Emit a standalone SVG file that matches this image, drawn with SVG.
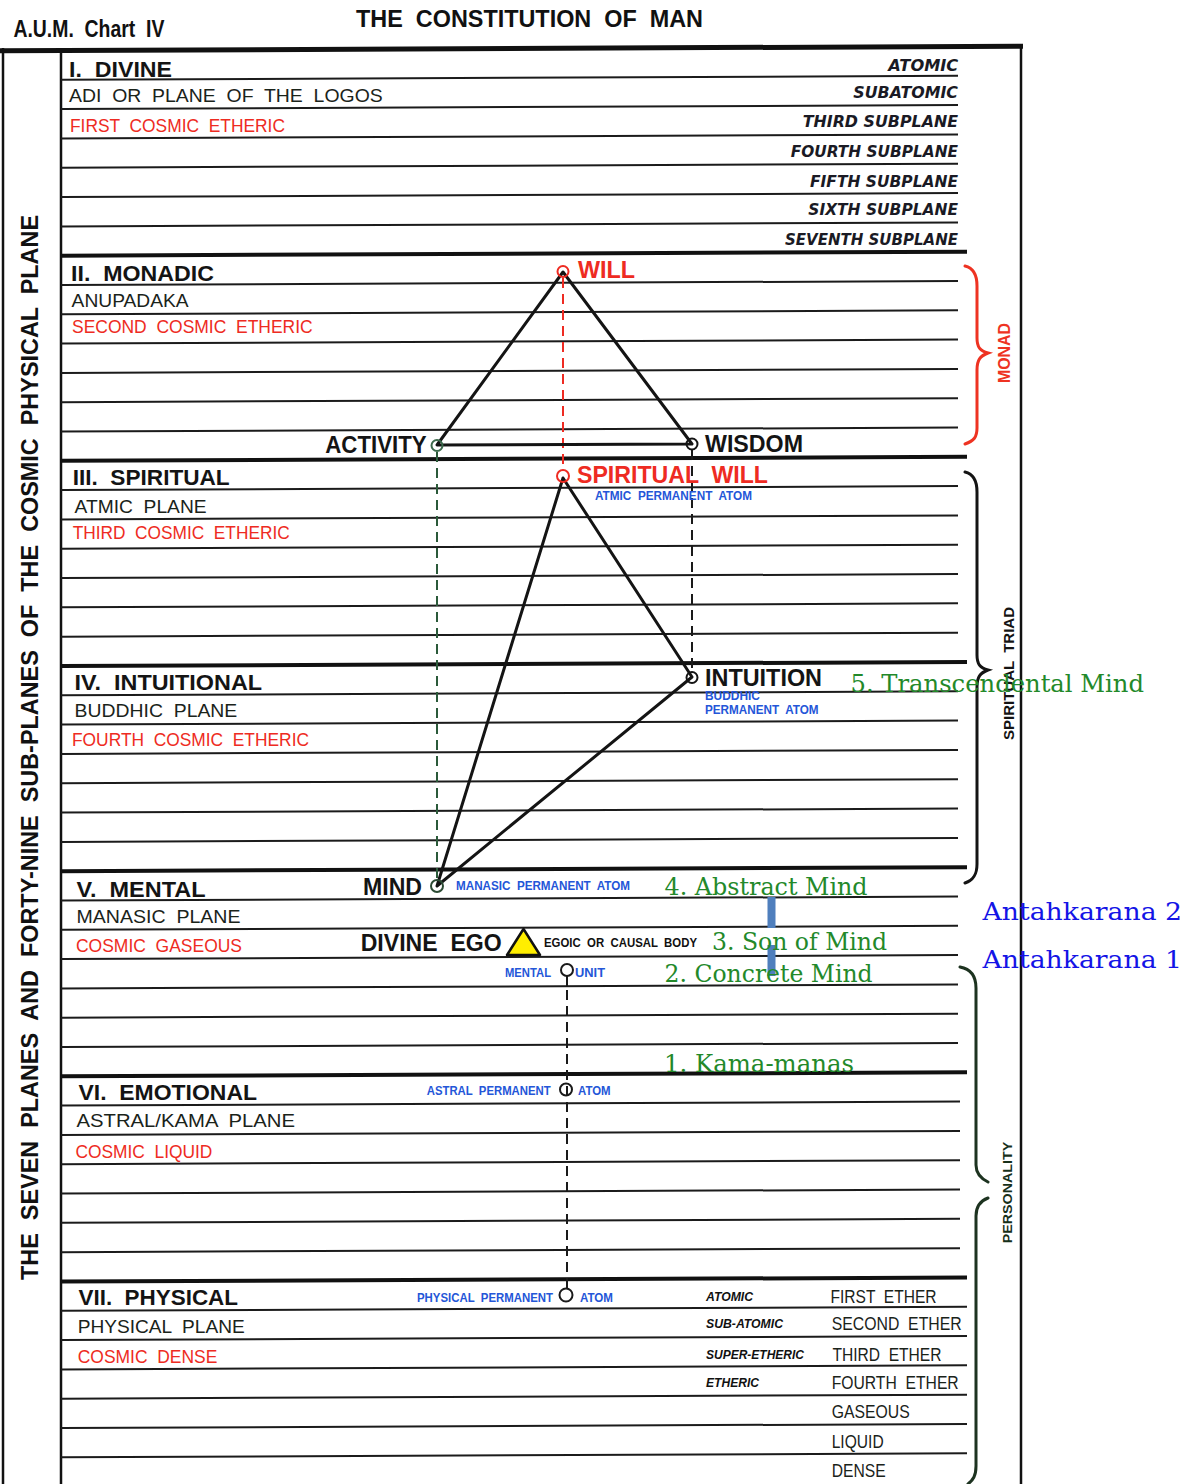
<svg xmlns="http://www.w3.org/2000/svg" width="1187" height="1484" viewBox="0 0 1187 1484" xml:space="preserve">
<style>
text { font-family: "Liberation Sans", Arial, sans-serif; white-space: pre; }
.title { font-size: 23px; font-weight: bold; fill: #111; }
.h { font-size: 22px; font-weight: bold; fill: #141414; }
.n { font-size: 18.5px; fill: #1a231a; }
.r { font-size: 18.5px; fill: #ee2b22; }
.sp { font-family: "DejaVu Sans", sans-serif; font-size: 15px; font-weight: bold; font-style: italic; fill: #1a1a24; }
.bl { font-size: 12px; font-weight: bold; fill: #2456d8; }
.k { font-size: 12px; font-weight: bold; fill: #111; }
.ki { font-size: 12px; font-weight: bold; font-style: italic; fill: #111; }
.big { font-size: 23px; font-weight: bold; fill: #141414; }
.bigr { font-size: 23px; font-weight: bold; fill: #ee2b22; }
.gr { font-family: "DejaVu Serif", "Liberation Serif", serif; font-size: 25px; fill: #23892a; }
.an { font-family: "DejaVu Serif", "Liberation Serif", serif; font-size: 25px; fill: #1414e6; }
.side { font-size: 24px; font-weight: bold; fill: #111; }
.thin { stroke: #1b1b1b; stroke-width: 2; }
.thick { stroke: #111; stroke-width: 4; }
.frame { stroke: #111; stroke-width: 2.5; fill: none; }
.tri { stroke: #141414; stroke-width: 3; fill: none; stroke-linejoin: round; }
.node { fill: none; stroke-width: 2; }
.dash { fill: none; stroke-width: 2; stroke-dasharray: 10 6; }
.brace { fill: none; stroke-width: 3; stroke-linecap: round; }
</style>

<!-- frame and grid -->
<g id="grid">
  <line class="frame" x1="3" y1="48" x2="3" y2="1484"/>
  <line class="frame" x1="61" y1="48" x2="61" y2="1484"/>
  <line class="frame" x1="1021" y1="46" x2="1021" y2="1484"/>
  <g transform="matrix(1 -0.00446 0 1 0 2.275)">
    <line x1="0" y1="48.5" x2="1023" y2="48.5" stroke="#111" stroke-width="5"/>
    <g class="thin">
      <line x1="61" y1="77.8" x2="958" y2="77.8"/>
      <line x1="61" y1="107.1" x2="958" y2="107.1"/>
      <line x1="61" y1="136.4" x2="958" y2="136.4"/>
      <line x1="61" y1="165.7" x2="958" y2="165.7"/>
      <line x1="61" y1="195.1" x2="958" y2="195.1"/>
      <line x1="61" y1="224.4" x2="958" y2="224.4"/>
      <line x1="61" y1="283.0" x2="958" y2="283.0"/>
      <line x1="61" y1="312.3" x2="958" y2="312.3"/>
      <line x1="61" y1="341.6" x2="958" y2="341.6"/>
      <line x1="61" y1="370.9" x2="958" y2="370.9"/>
      <line x1="61" y1="400.2" x2="958" y2="400.2"/>
      <line x1="61" y1="429.5" x2="958" y2="429.5"/>
      <line x1="61" y1="488.1" x2="958" y2="488.1"/>
      <line x1="61" y1="517.4" x2="958" y2="517.4"/>
      <line x1="61" y1="546.7" x2="958" y2="546.7"/>
      <line x1="61" y1="576.0" x2="958" y2="576.0"/>
      <line x1="61" y1="605.3" x2="958" y2="605.3"/>
      <line x1="61" y1="634.7" x2="958" y2="634.7"/>
      <line x1="61" y1="693.3" x2="958" y2="693.3"/>
      <line x1="61" y1="722.6" x2="958" y2="722.6"/>
      <line x1="61" y1="751.9" x2="958" y2="751.9"/>
      <line x1="61" y1="781.2" x2="958" y2="781.2"/>
      <line x1="61" y1="810.5" x2="958" y2="810.5"/>
      <line x1="61" y1="839.9" x2="958" y2="839.9"/>
      <line x1="61" y1="898.5" x2="958" y2="898.5"/>
      <line x1="61" y1="927.8" x2="958" y2="927.8"/>
      <line x1="61" y1="957.1" x2="958" y2="957.1"/>
      <line x1="61" y1="986.4" x2="958" y2="986.4"/>
      <line x1="61" y1="1015.7" x2="958" y2="1015.7"/>
      <line x1="61" y1="1045.0" x2="958" y2="1045.0"/>
      <line x1="61" y1="1103.6" x2="960" y2="1103.6"/>
      <line x1="61" y1="1132.9" x2="960" y2="1132.9"/>
      <line x1="61" y1="1162.2" x2="960" y2="1162.2"/>
      <line x1="61" y1="1191.5" x2="960" y2="1191.5"/>
      <line x1="61" y1="1220.8" x2="960" y2="1220.8"/>
      <line x1="61" y1="1250.2" x2="960" y2="1250.2"/>
      <line x1="61" y1="1308.8" x2="967" y2="1308.8"/>
      <line x1="61" y1="1338.1" x2="967" y2="1338.1"/>
      <line x1="61" y1="1367.4" x2="967" y2="1367.4"/>
      <line x1="61" y1="1396.7" x2="967" y2="1396.7"/>
      <line x1="61" y1="1426.0" x2="967" y2="1426.0"/>
      <line x1="61" y1="1455.3" x2="967" y2="1455.3"/>
    </g>
    <g class="thick">
      <line x1="61" y1="253.7" x2="967" y2="253.7"/>
      <line x1="61" y1="458.8" x2="967" y2="458.8"/>
      <line x1="61" y1="664.0" x2="967" y2="664.0"/>
      <line x1="61" y1="869.2" x2="967" y2="869.2"/>
      <line x1="61" y1="1074.3" x2="967" y2="1074.3"/>
      <line x1="61" y1="1279.5" x2="967" y2="1279.5"/>
    </g>
  </g>
</g>

<!-- titles -->
<g id="header">
  <text class="title" x="13.4" y="36.7" font-size="17" textLength="151" lengthAdjust="spacingAndGlyphs">A.U.M.  Chart  IV</text>
  <text class="title" x="356" y="26.7" textLength="347" lengthAdjust="spacingAndGlyphs">THE  CONSTITUTION  OF  MAN</text>
</g>
<g id="side-title">
  <text class="side" transform="translate(38,1280) rotate(-90)" textLength="1065" lengthAdjust="spacingAndGlyphs">THE  SEVEN  PLANES  AND  FORTY-NINE  SUB-PLANES  OF  THE  COSMIC  PHYSICAL  PLANE</text>
</g>

<!-- plane labels -->
<g id="plane-1">
  <text class="h" x="69" y="77" textLength="103" lengthAdjust="spacingAndGlyphs">I.  DIVINE</text>
  <text class="n" x="69" y="101.7" textLength="313.7" lengthAdjust="spacingAndGlyphs">ADI  OR  PLANE  OF  THE  LOGOS</text>
  <text class="r" x="70" y="131.7" textLength="215" lengthAdjust="spacingAndGlyphs">FIRST  COSMIC  ETHERIC</text>
</g>
<g id="subplanes-1">
  <text class="sp" x="888.3" y="71" textLength="70" lengthAdjust="spacingAndGlyphs">ATOMIC</text>
  <text class="sp" x="853.3" y="97.7" textLength="104.7" lengthAdjust="spacingAndGlyphs">SUBATOMIC</text>
  <text class="sp" x="802.7" y="126.7" textLength="155.3" lengthAdjust="spacingAndGlyphs">THIRD SUBPLANE</text>
  <text class="sp" x="790.7" y="156.7" textLength="167.3" lengthAdjust="spacingAndGlyphs">FOURTH SUBPLANE</text>
  <text class="sp" x="810" y="186.7" textLength="148" lengthAdjust="spacingAndGlyphs">FIFTH SUBPLANE</text>
  <text class="sp" x="808.3" y="215" textLength="149.7" lengthAdjust="spacingAndGlyphs">SIXTH SUBPLANE</text>
  <text class="sp" x="785" y="245" textLength="173" lengthAdjust="spacingAndGlyphs">SEVENTH SUBPLANE</text>
</g>
<g id="plane-2">
  <text class="h" x="71" y="280.7" textLength="143" lengthAdjust="spacingAndGlyphs">II.  MONADIC</text>
  <text class="n" x="71.6" y="307.3" textLength="117" lengthAdjust="spacingAndGlyphs">ANUPADAKA</text>
  <text class="r" x="72" y="333.3" textLength="240.7" lengthAdjust="spacingAndGlyphs">SECOND  COSMIC  ETHERIC</text>
</g>
<g id="plane-3">
  <text class="h" x="72.7" y="485" textLength="157" lengthAdjust="spacingAndGlyphs">III.  SPIRITUAL</text>
  <text class="n" x="74.6" y="513.3" textLength="132" lengthAdjust="spacingAndGlyphs">ATMIC  PLANE</text>
  <text class="r" x="72.7" y="539.3" textLength="217" lengthAdjust="spacingAndGlyphs">THIRD  COSMIC  ETHERIC</text>
</g>
<g id="plane-4">
  <text class="h" x="74.6" y="690" textLength="187.5" lengthAdjust="spacingAndGlyphs">IV.  INTUITIONAL</text>
  <text class="n" x="74.6" y="716.7" textLength="162.7" lengthAdjust="spacingAndGlyphs">BUDDHIC  PLANE</text>
  <text class="r" x="72" y="746" textLength="237" lengthAdjust="spacingAndGlyphs">FOURTH  COSMIC  ETHERIC</text>
</g>
<g id="plane-5">
  <text class="h" x="76.5" y="896.7" textLength="129" lengthAdjust="spacingAndGlyphs">V.  MENTAL</text>
  <text class="n" x="76.5" y="922.7" textLength="164" lengthAdjust="spacingAndGlyphs">MANASIC  PLANE</text>
  <text class="r" x="76" y="951.5" textLength="166" lengthAdjust="spacingAndGlyphs">COSMIC  GASEOUS</text>
</g>
<g id="plane-6">
  <text class="h" x="78.5" y="1100" textLength="178.5" lengthAdjust="spacingAndGlyphs">VI.  EMOTIONAL</text>
  <text class="n" x="76.5" y="1126.7" textLength="218.5" lengthAdjust="spacingAndGlyphs">ASTRAL/KAMA  PLANE</text>
  <text class="r" x="75.4" y="1158" textLength="137" lengthAdjust="spacingAndGlyphs">COSMIC  LIQUID</text>
</g>
<g id="plane-7">
  <text class="h" x="78.5" y="1305" textLength="159.5" lengthAdjust="spacingAndGlyphs">VII.  PHYSICAL</text>
  <text class="n" x="77.7" y="1333" textLength="167" lengthAdjust="spacingAndGlyphs">PHYSICAL  PLANE</text>
  <text class="r" x="77.7" y="1363" textLength="139.7" lengthAdjust="spacingAndGlyphs">COSMIC  DENSE</text>
</g>
<g id="subplanes-7">
  <text class="ki" x="706" y="1300.7" textLength="47" lengthAdjust="spacingAndGlyphs">ATOMIC</text>
  <text class="ki" x="706" y="1328" textLength="77" lengthAdjust="spacingAndGlyphs">SUB-ATOMIC</text>
  <text class="ki" x="706" y="1359" textLength="98" lengthAdjust="spacingAndGlyphs">SUPER-ETHERIC</text>
  <text class="ki" x="706" y="1387" textLength="53" lengthAdjust="spacingAndGlyphs">ETHERIC</text>
  <text class="n" x="830.5" y="1302.7" textLength="106" lengthAdjust="spacingAndGlyphs">FIRST  ETHER</text>
  <text class="n" x="831.7" y="1330" textLength="130" lengthAdjust="spacingAndGlyphs">SECOND  ETHER</text>
  <text class="n" x="832.5" y="1360.7" textLength="109" lengthAdjust="spacingAndGlyphs">THIRD  ETHER</text>
  <text class="n" x="831.7" y="1389" textLength="127" lengthAdjust="spacingAndGlyphs">FOURTH  ETHER</text>
  <text class="n" x="831.7" y="1418" textLength="78" lengthAdjust="spacingAndGlyphs">GASEOUS</text>
  <text class="n" x="831.7" y="1448" textLength="52" lengthAdjust="spacingAndGlyphs">LIQUID</text>
  <text class="n" x="831.7" y="1476.7" textLength="54" lengthAdjust="spacingAndGlyphs">DENSE</text>
</g>

<!-- connectors -->
<g id="connectors">
  <line x1="563" y1="278" x2="563" y2="470" stroke="#ee2b22" class="dash"/>
  <line x1="437" y1="452" x2="437" y2="879" stroke="#2b5a3a" class="dash"/>
  <line x1="692" y1="450" x2="692" y2="671" stroke="#1a1a1a" class="dash"/>
  <line x1="567" y1="976" x2="567" y2="986" stroke="#1a1a1a" stroke-width="2"/>
  <line x1="567" y1="990" x2="567" y2="1288" stroke="#1a1a1a" class="dash"/>
  <path class="tri" d="M437,445 L563,272 L692,444 Z"/>
  <path class="tri" d="M563,478 L692,677 L437,886 Z"/>
</g>

<!-- triangle vertices -->
<g id="will">
  <circle class="node" cx="563" cy="271.5" r="5.5" stroke="#ee2b22"/>
  <text class="bigr" x="578" y="278" textLength="57" lengthAdjust="spacingAndGlyphs">WILL</text>
</g>
<g id="activity">
  <circle class="node" cx="437" cy="445.5" r="5.5" stroke="#3c6a4c"/>
  <text class="big" x="325.3" y="453.3" fill="#1a2b1a" textLength="101.4" lengthAdjust="spacingAndGlyphs">ACTIVITY</text>
</g>
<g id="wisdom">
  <circle class="node" cx="692" cy="444" r="5.5" stroke="#141414"/>
  <text class="big" x="705" y="451.7" textLength="98" lengthAdjust="spacingAndGlyphs">WISDOM</text>
</g>
<g id="spiritual-will">
  <circle class="node" cx="563" cy="476" r="6" stroke="#ee2b22"/>
  <text class="bigr" x="577" y="483" textLength="191" lengthAdjust="spacingAndGlyphs">SPIRITUAL  WILL</text>
  <text class="bl" x="595" y="500" textLength="157" lengthAdjust="spacingAndGlyphs">ATMIC  PERMANENT  ATOM</text>
</g>
<g id="intuition">
  <circle class="node" cx="692" cy="677.5" r="5.5" stroke="#141414"/>
  <text class="big" x="705" y="686" textLength="117" lengthAdjust="spacingAndGlyphs">INTUITION</text>
  <text class="bl" x="705" y="700" textLength="55" lengthAdjust="spacingAndGlyphs">BUDDHIC</text>
  <text class="bl" x="705" y="714" textLength="113.5" lengthAdjust="spacingAndGlyphs">PERMANENT  ATOM</text>
</g>
<g id="mind">
  <circle class="node" cx="437" cy="886" r="6" stroke="#2b4a33"/>
  <text class="big" x="363" y="895" fill="#1a2b1a" textLength="59" lengthAdjust="spacingAndGlyphs">MIND</text>
  <text class="bl" x="456" y="890" textLength="174" lengthAdjust="spacingAndGlyphs">MANASIC  PERMANENT  ATOM</text>
</g>
<g id="divine-ego">
  <polygon points="507,955 523.5,929 540,955" fill="#ffee00" stroke="#111" stroke-width="2.5" stroke-linejoin="round"/>
  <text class="big" x="360.7" y="950.7" textLength="141" lengthAdjust="spacingAndGlyphs">DIVINE  EGO</text>
  <text class="k" x="544" y="947" textLength="153" lengthAdjust="spacingAndGlyphs">EGOIC  OR  CAUSAL  BODY</text>
</g>
<g id="mental-unit">
  <circle cx="567" cy="970" r="6" fill="#fff" stroke="#1a1a1a" stroke-width="2"/>
  <text class="bl" x="505" y="976.7" textLength="46" lengthAdjust="spacingAndGlyphs">MENTAL</text>
  <text class="bl" x="575" y="976.7" textLength="30" lengthAdjust="spacingAndGlyphs">UNIT</text>
</g>
<g id="astral-atom">
  <circle class="node" cx="566" cy="1089.5" r="6" stroke="#1a1a1a"/>
  <text class="bl" x="426.7" y="1095" textLength="124" lengthAdjust="spacingAndGlyphs">ASTRAL  PERMANENT</text>
  <text class="bl" x="578" y="1095" textLength="32.5" lengthAdjust="spacingAndGlyphs">ATOM</text>
</g>
<g id="physical-atom">
  <circle cx="566" cy="1295" r="6.5" fill="#fff" stroke="#1a1a1a" stroke-width="2"/>
  <text class="bl" x="417" y="1301.7" textLength="136" lengthAdjust="spacingAndGlyphs">PHYSICAL  PERMANENT</text>
  <text class="bl" x="580" y="1301.7" textLength="33" lengthAdjust="spacingAndGlyphs">ATOM</text>
</g>

<!-- brackets -->
<g id="monad">
  <path class="brace" stroke="#ee3322" d="M965,266 C974,268 977,275 977,286 L977,338 C977,347 980,351 988,353 C980,356 977,360 977,370 L977,428 C977,437 974,441 965,444"/>
  <text transform="translate(1010,383) rotate(-90)" font-size="16" font-weight="bold" fill="#ee3322" textLength="60" lengthAdjust="spacingAndGlyphs">MONAD</text>
</g>
<g id="spiritual-triad">
  <path class="brace" stroke="#141414" d="M965,472 C974,474 977,481 977,492 L977,655 C977,664 980,668 988,670 C980,673 977,677 977,687 L977,864 C977,874 974,880 965,883"/>
  <text transform="translate(1014,740) rotate(-90)" font-size="14.5" font-weight="bold" fill="#141414" textLength="133" lengthAdjust="spacingAndGlyphs">SPIRITUAL  TRIAD</text>
</g>
<g id="personality">
  <path class="brace" stroke="#1d3320" d="M960,967 C971,969 976,976 976,988 L976,1165 C976,1173 980,1178 988,1182 M988,1198 C980,1201 976,1207 976,1216 L976,1466 C976,1476 973,1480 968,1484"/>
  <text transform="translate(1012,1243.3) rotate(-90)" font-size="13.5" font-weight="bold" fill="#17301a" textLength="101.6" lengthAdjust="spacingAndGlyphs">PERSONALITY</text>
</g>

<!-- annotations -->
<g id="antahkarana-bars">
  <rect x="767.5" y="897" width="8" height="31" fill="#4f7fbd"/>
  <rect x="767.5" y="945" width="8" height="31" fill="#4f7fbd"/>
</g>
<g id="levels">
  <text class="gr" x="850.5" y="691.7" textLength="293.5" lengthAdjust="spacingAndGlyphs">5. Transcendental Mind</text>
  <text class="gr" x="664.6" y="895" textLength="203" lengthAdjust="spacingAndGlyphs">4. Abstract Mind</text>
  <text class="gr" x="712" y="950" textLength="175" lengthAdjust="spacingAndGlyphs">3. Son of Mind</text>
  <text class="gr" x="664.6" y="982" textLength="208" lengthAdjust="spacingAndGlyphs">2. Concrete Mind</text>
  <text class="gr" x="664" y="1071.7" textLength="190" lengthAdjust="spacingAndGlyphs">1. Kama-manas</text>
</g>
<g id="antahkarana">
  <text class="an" x="982.6" y="920" textLength="199.4" lengthAdjust="spacingAndGlyphs">Antahkarana 2</text>
  <text class="an" x="982.6" y="968" textLength="199.4" lengthAdjust="spacingAndGlyphs">Antahkarana 1</text>
</g>
</svg>
